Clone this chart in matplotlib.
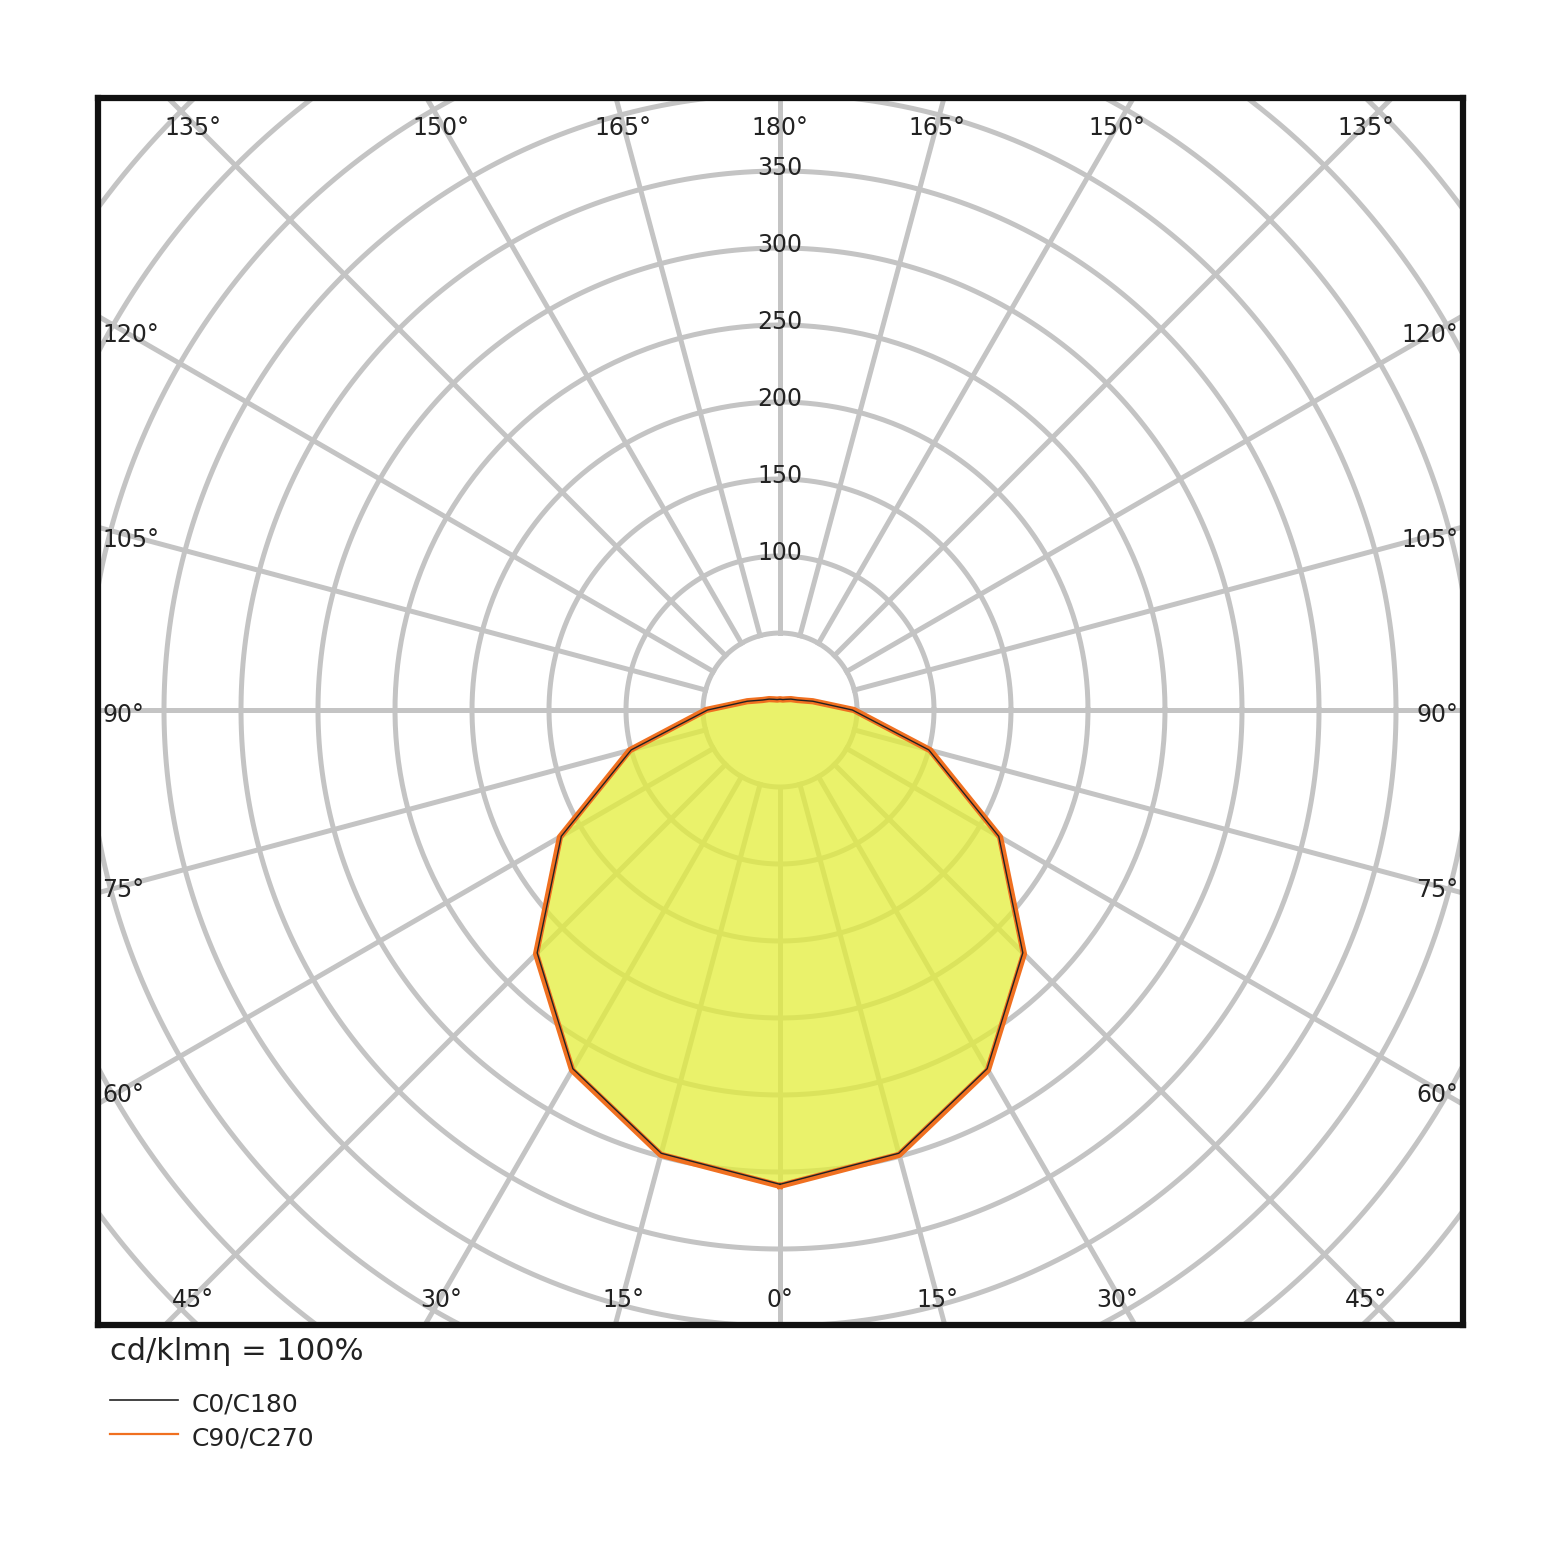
import numpy as np
import matplotlib
matplotlib.use("Agg")
import matplotlib.pyplot as plt

angles_deg = [0, 15, 30, 45, 60, 75, 90, 105, 120, 135, 150, 165, 180]
c0_c180 = [308, 298, 269, 223, 164, 100, 47, 22, 13, 10, 8, 7, 7]
c90_c270 = [309, 299, 270, 224, 165, 101, 48, 22, 13, 10, 8, 7, 7]
ring_values = [50, 100, 150, 200, 250, 300, 350, 400, 450, 500, 550, 600]
ring_labels = [100, 150, 200, 250, 300, 350]
spoke_deg = list(range(0, 360, 15))

W, H = 1560, 1561
fig = plt.figure(figsize=(W/100, H/100), dpi=100)
ax = fig.add_axes([98/W, 1 - 1325/H, 1365/W, 1227/H])
s = 1.54
ax.set_xlim(-682/s, 683/s)
ax.set_ylim(-615/s, 612/s)
ax.set_xticks([]); ax.set_yticks([])
for sp in ax.spines.values():
    sp.set_linewidth(4.5); sp.set_color('#111111'); sp.set_zorder(10)

gc = '#c4c4c4'
t = np.linspace(0, 2*np.pi, 400)
for r in ring_values:
    ax.plot(r*np.cos(t), r*np.sin(t), color=gc, lw=3.6, zorder=1)
for a in spoke_deg:
    th = np.radians(a)
    ax.plot([50*np.sin(th), 700*np.sin(th)], [-50*np.cos(th), -700*np.cos(th)], color=gc, lw=3.6, zorder=1)

def curve(vals):
    th = np.radians(np.array(angles_deg + [360 - a for a in angles_deg[::-1][1:]]))
    v = np.array(vals + vals[::-1][1:])
    return v*np.sin(th), -v*np.cos(th)

x, y = curve(c90_c270)
ax.fill(x, y, color='#e3ee3a', alpha=0.75, zorder=2, lw=0)
ax.plot(x, y, color='#f07020', lw=4.5, zorder=3)
x0, y0 = curve(c0_c180)
ax.plot(x0, y0, color='#222222', lw=1.0, zorder=4)

for v in ring_labels:
    ax.text(0, v + 2, str(v), ha='center', va='center', fontsize=17, color='#222222', zorder=5)

def ft(px, py, txt, **kw):
    fig.text(px/W, 1 - py/H, txt, **kw)

lab = dict(fontsize=17, color='#222222', ha='center', va='center')
for px, txt in [(193, '135°'), (441, '150°'), (623, '165°'), (780, '180°'), (937, '165°'), (1117, '150°'), (1366, '135°')]:
    ft(px, 128, txt, **lab)
for px, txt in [(193, '45°'), (441, '30°'), (623, '15°'), (780, '0°'), (937, '15°'), (1117, '30°'), (1366, '45°')]:
    ft(px, 1300, txt, **lab)
for py, l, r in [(335, '120°', '120°'), (540, '105°', '105°'), (715, '90°', '90°'), (890, '75°', '75°'), (1095, '60°', '60°')]:
    ft(102, py, l, fontsize=17, color='#222222', ha='left', va='center')
    ft(1458, py, r, fontsize=17, color='#222222', ha='right', va='center')

ft(110, 1351, 'cd/klmη = 100%', fontsize=22, color='#222222', ha='left', va='center')
fig.add_artist(plt.Line2D([110/W, 178/W], [1 - 1400/H]*2, color='#222222', lw=1.2))
fig.add_artist(plt.Line2D([110/W, 178/W], [1 - 1434/H]*2, color='#f07020', lw=1.6))
ft(192, 1404, 'C0/C180', fontsize=18, color='#222222', ha='left', va='center')
ft(192, 1438, 'C90/C270', fontsize=18, color='#222222', ha='left', va='center')

fig.savefig('out.png', dpi=100, facecolor='white')
